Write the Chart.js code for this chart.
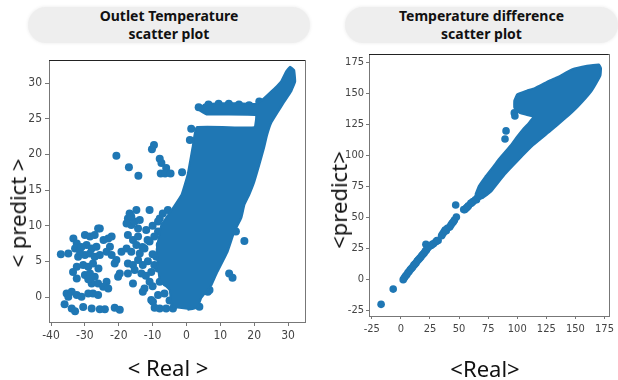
<!DOCTYPE html>
<html>
<head>
<meta charset="utf-8">
<script src="https://cdn.jsdelivr.net/npm/chart.js@4.4.1/dist/chart.umd.min.js"></script>
<style>
  body { margin: 0; width: 618px; height: 380px; background: #fff; position: relative; overflow: hidden; font-family: "Noto Sans", sans-serif; }
  .title-box { position: absolute; top: 7px; height: 36px; border-radius: 18px; background: #eeeeee;
    font-weight: bold; font-size: 14px; line-height: 18px; color: #111; text-align: center;
    display: flex; align-items: center; justify-content: center; box-shadow: 0 0 3px 1px #f3f3f3; }
  .axis-label { position: absolute; font-size: 22px; color: #111; white-space: nowrap; transform: translate(-50%, -50%); }
  .axis-label.vert { transform: translate(-50%, -50%) rotate(-90deg); }
  canvas { position: absolute; }
</style>
</head>
<body>
<div class="title-box" style="left:28px; width:282px;">Outlet Temperature<br>scatter plot</div>
<div class="title-box" style="left:345px; width:273px;">Temperature difference<br>scatter plot</div>

<canvas id="chart-outlet" width="310" height="330" style="left:0; top:50px;"></canvas>
<canvas id="chart-diff" width="308" height="335" style="left:310px; top:45px;"></canvas>

<div class="axis-label vert" style="left:17px; top:213px;">&lt; predict &gt;</div>
<div class="axis-label" style="left:168px; top:367px;">&lt; Real &gt;</div>
<div class="axis-label vert" style="left:338px; top:200px;">&lt;predict&gt;</div>
<div class="axis-label" style="left:485px; top:368px;">&lt;Real&gt;</div>

<script>
const BLUE = '#1f77b4';

// Outlet temperature: ticks
const outlet_ticks_x = [-40, -30, -20, -10, 0, 10, 20, 30];
const outlet_ticks_y = [0, 5, 10, 15, 20, 25, 30];

// Outlet temperature: outline of the dense cloud (real, predict)
const outlet_core_x = [-4.4, -5.0, -7.9, -8.8, -7.4, -4.4, -1.5, 0.3, 1.8, 3.0, 20.0, 20.5, 5.9, 3.8, 5.3, 12.6, 20.9, 25.0, 27.9, 29.4, 30.6,
  31.8, 32.1, 30.9, 28.8, 26.8, 25.0, 23.8, 22.9, 21.5, 20.0, 18.5, 17.1, 16.2, 14.1, 12.1, 9.1, 7.4, 4.4, 3.2, 0.3];
const outlet_core_y = [-1.5, 1.0, 2.4, 6.6, 10.1, 12.2, 14.3, 17.1, 21.0, 23.8, 23.8, 25.5, 25.6, 26.2, 27.0, 27.2, 27.1, 28.8, 30.2, 31.6, 32.3,
  31.8, 30.2, 28.8, 27.3, 25.8, 24.4, 22.7, 20.9, 18.5, 16.1, 14.3, 12.9, 11.1, 9.1, 6.3, 3.5, 1.7, -0.1, -1.5, -1.8];

// Outlet temperature: scattered points (real, predict)
const outlet_pts_x = [-20.7, -17.0, -14.2, -10.2, -9.6, -7.9, -7.4, -6.0, -7.6, -6.3, -4.7, -1.3, 1.0, 1.4,
  -37.1, -34.9, -33.4, -32.4, -32.9, -32.0, -32.4, -32.4, -35.4, -33.9, -32.4, -31.0, -34.9, -33.9, -32.9, -30.5, -28.0, -25.6, -24.1, -21.2, -19.7,
  -30.0, -28.5, -27.1, -25.6, -29.5, -28.0, -26.6, -30.0, -28.5, -27.1, -25.6, -30.5, -29.0, -27.6, -30.0, -28.5, -27.1, -28.0, -26.1, -23.6,
  -24.6, -23.1, -27.6, -26.1, -29.0, -22.1, -22.6, -23.6, -22.1, -20.7, -21.2, -19.2, -19.7, -20.2,
  -17.3, -16.8, -14.8, -16.3, -15.3, -13.8, -14.3, -17.3, -15.8, -14.3, -17.7, -16.3, -14.8, -13.8, -17.3, -15.8, -14.3, -12.9, -17.3, -15.3,
  -13.3, -15.8, -12.4, -12.9, -10.9, -11.9, -10.9, -12.4, -11.4, -10.4, -10.9, -9.9, -7.9, -6.0, -4.0, -7.9, -8.4, -7.9, -8.9, -8.4, -7.9, -8.4,
  -5.5, -4.5, -7.0, -8.4, -16.3, -17.7, -26.1, -23.1, -10.4, -9.4,
  -6.0, -5.5, -6.0, -5.5, -6.5, -4.0, -3.5, -3.0, -10.0, -9.5, -10.0, -9.5, -10.0, -6.5, -5.0, -3.0, -11.5, -12.0, -13.0,
  -36.0, -31.5, -29.0, -26.0, -24.5, -31.0, -33.5,
  17.1, 12.6, 13.6, 6.3, 3.8, 14.6, 6.8, 3.6, 6.5, 9.5, 12.5, 15.5, 18.5, 21.5];
const outlet_pts_y = [19.8, 18.2, 17.0, 20.7, 21.3, 19.4, 18.8, 18.1, 17.3, 17.3, 17.3, 17.5, 22.0, 23.6,
  6.0, 6.1, 8.2, 7.5, 6.8, 5.65, 4.25, 2.6, 0.5, 0.75, 0.28, 0.04, 0.04, -1.6, -2.0, -1.4, -1.6, -1.7, -1.7, -1.5, -1.8,
  8.7, 8.5, 8.7, 9.6, 7.3, 6.8, 7.05, 5.9, 6.1, 5.65, 5.9, 4.5, 4.25, 4.7, 3.1, 3.3, 2.85, 1.9, 1.9, 2.15,
  1.45, 1.2, 0.5, 0.3, 0.5, 8.5, 7.05, 6.35, 5.9, 5.2, 4.7, 6.35, 3.3, 2.85,
  11.0, 11.7, 12.2, 10.1, 10.6, 10.8, 9.6, 8.7, 8.0, 8.5, 6.8, 6.35, 7.3, 6.1, 4.7, 4.5, 5.2, 4.5, 3.3, 3.8,
  3.3, 1.9, 1.2, 0.75, 12.2, 9.4, 7.8, 6.8, 5.0, 3.5, 2.15, -0.65, -1.6, -1.6, -1.6, 11.0, 9.2, 7.3, 5.65, 4.0, 2.15, 0.28,
  12.2, 11.0, 11.7, 10.6, 11.3, 10.3, 9.6, 8.2, -0.4, -1.5,
  2.0, 4.0, 6.0, 8.0, 10.0, 3.0, 6.0, 9.0, 10.0, 8.5, 6.0, 4.5, 1.5, 0.5, -0.5, -1.0, 8.0, 3.0, 7.0,
  -1.0, 6.5, 2.5, 4.0, 8.0, 7.0, 3.5,
  7.85, 3.3, 2.7, 0.75, -1.35, 9.2, 1.0, 26.6, 27.0, 27.1, 27.1, 27.0, 26.9, 27.4];

// Temperature difference: ticks
const diff_ticks_x = [-25, 0, 25, 50, 75, 100, 125, 150, 175];
const diff_ticks_y = [-25, 0, 25, 50, 75, 100, 125, 150, 175];

// Temperature difference: outline of the dense upper band (real, predict)
const diff_core_x = [70, 78, 89, 100, 113.8, 128, 141.3, 152, 163.4, 168, 171.6, 172, 170.3,
  160, 146.9, 135, 127.6, 115, 108.3, 100, 97.5, 97.5, 102, 108.3, 113.8,
  110, 105.5, 100, 94.5, 89, 83.5, 78, 72.5, 67, 64];
const diff_core_y = [65, 71, 84, 95, 108, 119, 129.6, 139, 151, 158, 164.5, 170, 173,
  172, 169, 163, 160, 154, 152, 149, 144, 138, 134, 132.3, 131,
  126, 121.5, 115, 108, 102, 96, 89, 82.5, 75, 68];

// Temperature difference: scattered points along the diagonal (real, predict)
const diff_pts_x = [-17.0, -6.6, 2, 3, 4, 5, 6, 7, 8, 9, 10, 11, 12, 13, 14, 15, 16, 17, 18, 19, 20, 21, 22, 21.5, 23, 24,
  26, 27, 28, 30, 31, 32, 35, 36, 37, 38, 39, 40, 42, 43, 44, 45, 46, 47.7, 47.1, 54, 55, 56, 57, 58, 60, 61, 62, 64, 65, 66, 68, 70, 72,
  90.4, 89.5, 97.5, 98];
const diff_pts_y = [-20.4, -8.1, -0.5, 1, 2.5, 3.5, 5, 6, 7.5, 8.5, 9.5, 11, 12, 13, 14.5, 15.5, 16.5, 17.5, 19, 20, 21, 22.5, 23.5, 28, 25, 26,
  27, 28, 28.5, 30, 31, 31, 35, 36.5, 38, 39.5, 39, 41, 42, 43.5, 45, 46, 47.5, 50, 59.7, 56, 56, 57, 58, 59, 61, 61.5, 62.5, 64, 64, 66, 67, 69, 71,
  119.5, 113, 134, 131.5];

function to_points(xs, ys) {
    return xs.map((x, i) => ({ x: x, y: ys[i] }));
}

const frame_plugin = {
    id: 'frame',
    afterDraw(chart) {
        const ctx = chart.ctx;
        const a = chart.chartArea;
        ctx.save();
        ctx.strokeStyle = '#777';
        ctx.lineWidth = 1;
        ctx.strokeRect(Math.round(a.left) + 0.5, Math.round(a.top) + 0.5, Math.round(a.right - a.left), Math.round(a.bottom - a.top));
        ctx.strokeStyle = '#222';
        ctx.beginPath();
        ctx.moveTo(a.left, Math.round(a.top) + 0.5);
        ctx.lineTo(a.right, Math.round(a.top) + 0.5);
        ctx.stroke();
        ctx.restore();
    }
};

function make_scatter(canvas_id, cfg) {
    const tick_font = { family: "'Liberation Sans Narrow', 'DejaVu Sans Condensed', 'Liberation Sans', sans-serif", size: cfg.tick_size };
    return new Chart(document.getElementById(canvas_id), {
        type: 'scatter',
        data: {
            datasets: [
                {
                    type: 'line',
                    data: to_points(cfg.core_x, cfg.core_y),
                    fill: 'shape',
                    backgroundColor: BLUE,
                    borderColor: BLUE,
                    borderWidth: 2,
                    borderJoinStyle: 'round',
                    pointRadius: 0,
                    tension: 0.1
                },
                {
                    data: to_points(cfg.pts_x, cfg.pts_y),
                    backgroundColor: BLUE,
                    borderWidth: 0,
                    pointRadius: cfg.dot
                }
            ]
        },
        options: {
            responsive: false,
            animation: false,
            layout: { padding: { top: cfg.pad_top, right: cfg.pad_right, left: 0, bottom: 0 } },
            plugins: {
                legend: { display: false },
                tooltip: { enabled: false }
            },
            scales: {
                x: {
                    type: 'linear',
                    min: cfg.x_min,
                    max: cfg.x_max,
                    afterFit: (s) => { s.height = cfg.x_height; },
                    afterBuildTicks: (s) => { s.ticks = cfg.ticks_x.map(v => ({ value: v })); },
                    grid: { drawOnChartArea: false, tickLength: cfg.tick_len, color: '#777' },
                    border: { display: false },
                    ticks: { font: tick_font, color: '#444', padding: cfg.x_pad, maxRotation: 0 }
                },
                y: {
                    type: 'linear',
                    min: cfg.y_min,
                    max: cfg.y_max,
                    afterFit: (s) => { s.width = cfg.y_width; },
                    afterBuildTicks: (s) => { s.ticks = cfg.ticks_y.map(v => ({ value: v })); },
                    grid: { drawOnChartArea: false, tickLength: cfg.tick_len, color: '#777' },
                    border: { display: false },
                    ticks: { font: tick_font, color: '#444', padding: cfg.y_pad }
                }
            }
        },
        plugins: [frame_plugin]
    });
}

make_scatter('chart-outlet', {
    core_x: outlet_core_x, core_y: outlet_core_y,
    pts_x: outlet_pts_x, pts_y: outlet_pts_y,
    ticks_x: outlet_ticks_x, ticks_y: outlet_ticks_y,
    x_min: -40.6, x_max: 35, y_min: -3.5, y_max: 33.2,
    pad_top: 10, pad_right: 5, x_height: 58, y_width: 49,
    tick_len: 4, x_pad: 3, y_pad: 3, tick_size: 12, dot: 4
});

make_scatter('chart-diff', {
    core_x: diff_core_x, core_y: diff_core_y,
    pts_x: diff_pts_x, pts_y: diff_pts_y,
    ticks_x: diff_ticks_x, ticks_y: diff_ticks_y,
    x_min: -27.4, x_max: 178.5, y_min: -29.8, y_max: 181.5,
    pad_top: 9, pad_right: 1, x_height: 64, y_width: 59,
    tick_len: 3, x_pad: 4, y_pad: 2, tick_size: 11, dot: 3.8
});
</script>
</body>
</html>
